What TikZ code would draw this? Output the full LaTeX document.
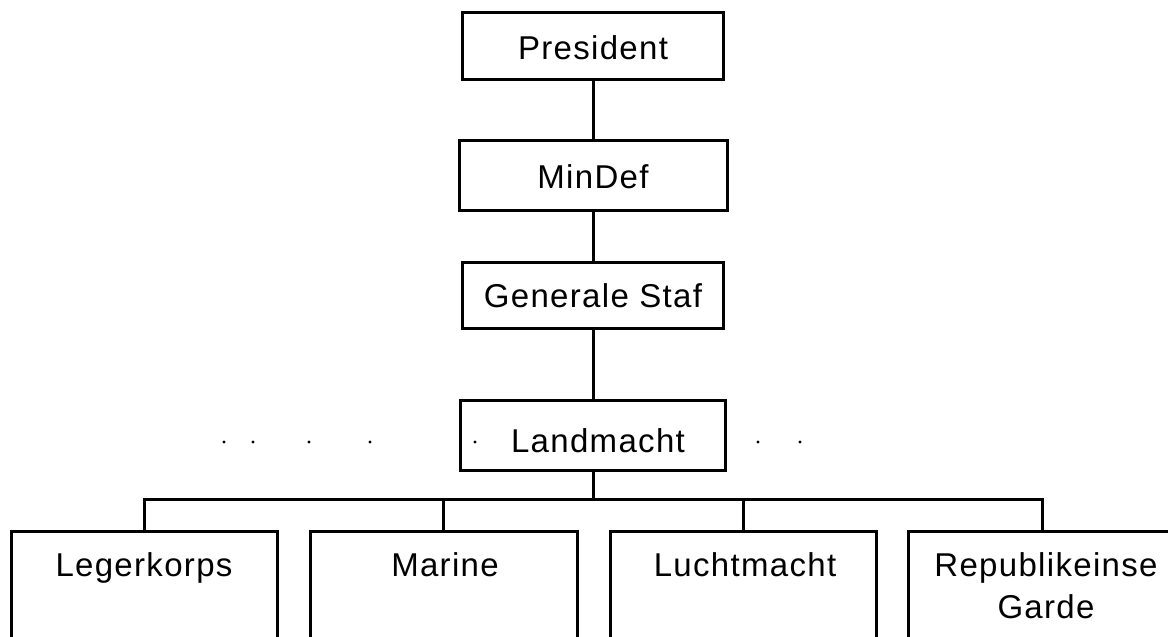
\documentclass[tikz,border=0pt]{standalone}
\usepackage{fontspec}
\setmainfont{Liberation Sans}[LetterSpace=4]
\begin{document}
\begin{tikzpicture}[x=1pt,y=-1pt,
  box/.style={draw, line width=3pt, rectangle, inner sep=0pt},
  lbl/.style={font=\fontsize{33}{40}\selectfont, inner sep=0pt, anchor=base},
  conn/.style={line width=3pt},
  speck/.style={fill=black, draw=none}]
\useasboundingbox (0,0) rectangle (1168,637);
\clip (0,0) rectangle (1168,637);
\fill[white] (0,0) rectangle (1168,637);
% upper chain
\node[box, minimum width=261pt, minimum height=67pt] (pres) at (593,45.5) {};
\node[lbl] (prest) at (593,59) {President};
\node[box, minimum width=268pt, minimum height=70pt] (mindef) at (593,175) {};
\node[lbl] (mindeft) at (593,188) {MinDef};
\node[box, minimum width=261pt, minimum height=66pt] (gs) at (593,295) {};
\node[lbl] (gst) at (593,307) {Generale Staf};
\node[box, minimum width=265pt, minimum height=70pt] (land) at (593,435) {};
\node[lbl] (landt) at (598,452) {Landmacht};
% bottom row
\node[box, minimum width=266pt, minimum height=180pt, anchor=north] (leg) at (144,530) {};
\node[lbl] (legt) at (144,576) {Legerkorps};
\node[box, minimum width=267pt, minimum height=180pt, anchor=north] (mar) at (443.5,530) {};
\node[lbl] (mart) at (445,576) {Marine};
\node[box, minimum width=266pt, minimum height=180pt, anchor=north] (lucht) at (743,530) {};
\node[lbl] (luchtt) at (745,576) {Luchtmacht};
\node[box, minimum width=267pt, minimum height=180pt, anchor=north] (rep) at (1042,530) {};
\node[lbl] (rept) at (1046,576) {Republikeinse};
\node[lbl] (rept2) at (1046,618) {Garde};
% connectors
\coordinate (bus) at (593,499);
\draw[conn] (pres.south) -- (mindef.north);
\draw[conn] (mindef.south) -- (gs.north);
\draw[conn] (gs.south) -- (land.north);
\draw[conn] (land.south) -- (bus);
\draw[conn] (leg.north) |- (bus) -| (rep.north);
\draw[conn] (mar.north) -- (mar.north |- bus);
\draw[conn] (lucht.north) -- (lucht.north |- bus);
% scan specks
\foreach \px in {224,253,309,370,475,758,800}
  \fill[speck] (\px,442) circle (1.6pt);
\end{tikzpicture}
\end{document}
